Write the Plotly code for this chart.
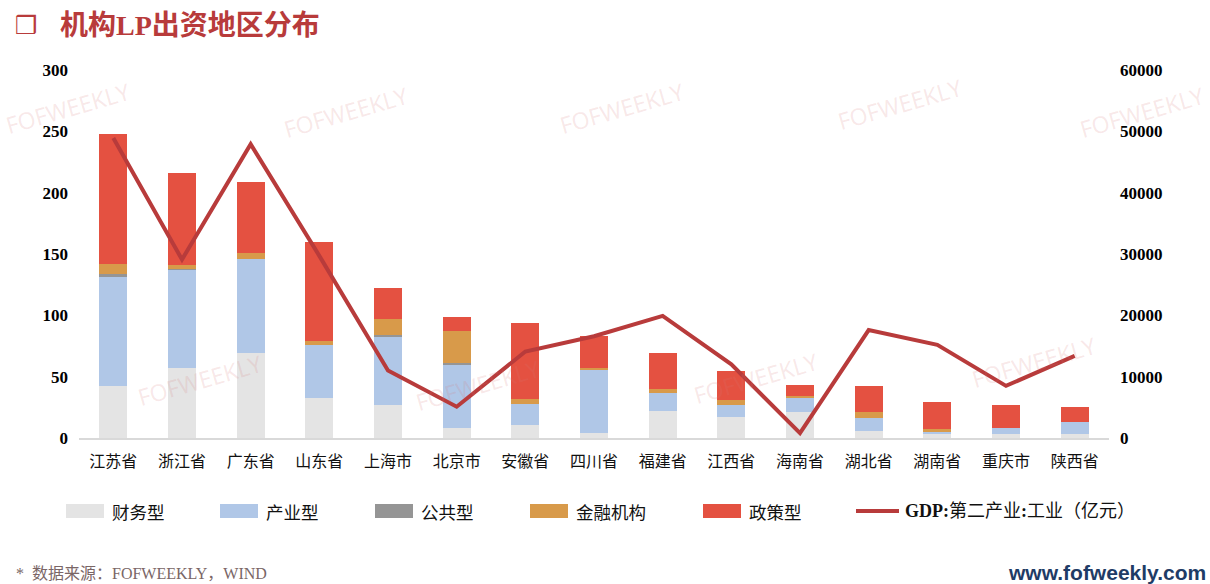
import plotly.graph_objects as go

# Provinces / municipalities
categories = ["江苏省", "浙江省", "广东省", "山东省", "上海市", "北京市", "安徽省", "四川省",
              "福建省", "江西省", "海南省", "湖北省", "湖南省", "重庆市", "陕西省"]

# Number of institutional LPs by type
caiwu = [42, 57, 69, 33, 27, 8, 11, 4, 22, 17, 21, 6, 3, 3, 3]          # 财务型
chanye = [89, 80, 77, 43, 56, 52, 17, 52, 15, 10, 12, 10, 2, 5, 10]     # 产业型
gonggong = [3, 1, 0, 0, 1, 1, 0, 0, 0, 0, 0, 0, 0, 0, 0]                # 公共型
jinrong = [8, 3, 5, 3, 13, 26, 4, 1, 3, 4, 1, 5, 2, 0, 0]               # 金融机构
zhengce = [106, 75, 58, 81, 25, 12, 62, 26, 29, 24, 9, 21, 22, 19, 12]  # 政策型

# GDP: secondary industry: industry (100 million yuan)
gdp = [48900, 29100, 47900, 29700, 11000, 5100, 14100, 16600,
       19900, 12000, 800, 17600, 15200, 8500, 13400]

left_ticks = [0, 50, 100, 150, 200, 250, 300]
right_ticks = [0, 10000, 20000, 30000, 40000, 50000, 60000]

series = [
    ("财务型", caiwu, "#E4E4E4"),
    ("产业型", chanye, "#B0C7E7"),
    ("公共型", gonggong, "#959595"),
    ("金融机构", jinrong, "#D89A4A"),
    ("政策型", zhengce, "#E45141"),
]
line_name = "GDP:第二产业:工业（亿元）"
line_color = "#B83B3B"

W, H = 1210, 584
ML, MR, MT, MB = 79, 101, 70, 146
PW, PH = W - ML - MR, H - MT - MB

serif_cjk = "Liberation Serif, Times New Roman, Noto Sans CJK SC"
cjk = "Noto Sans CJK SC, Liberation Serif"


def px(x):
    """Page x pixel -> paper coordinate."""
    return (x - ML) / PW


def py(y):
    """Page y pixel -> paper coordinate."""
    return (H - MB - y) / PH


fig = go.Figure()
for name, vals, color in series:
    fig.add_trace(go.Bar(
        x=categories, y=vals, name=name, marker=dict(color=color, line=dict(width=0)),
        width=0.41, showlegend=False,
    ))

fig.add_trace(go.Scatter(
    x=categories, y=gdp, name=line_name, yaxis="y2", mode="lines",
    line=dict(color=line_color, width=4), showlegend=False,
))

fig.update_layout(
    width=W, height=H, autosize=False,
    paper_bgcolor="white", plot_bgcolor="white",
    margin=dict(l=ML, r=MR, t=MT, b=MB),
    barmode="stack",
    xaxis=dict(
        type="category", showgrid=False, zeroline=False,
        showline=True, linecolor="#D9D9D9", linewidth=2,
        ticks="", ticklabelstandoff=8,
        tickfont=dict(family=cjk, size=16, color="#111111"),
    ),
    yaxis=dict(
        range=[0, 300], tickvals=left_ticks, showgrid=False, zeroline=False,
        showline=False, ticks="", ticklabelstandoff=10,
        tickfont=dict(family="Liberation Serif", size=17, color="#000000", weight="bold"),
    ),
    yaxis2=dict(
        range=[0, 60000], tickvals=right_ticks, ticktext=[str(v) for v in right_ticks],
        overlaying="y", side="right",
        showgrid=False, zeroline=False, showline=False, ticks="", ticklabelstandoff=10,
        tickfont=dict(family="Liberation Serif", size=17, color="#000000", weight="bold"),
    ),
    font=dict(family=cjk),
)

shapes = []
annotations = []

# Title
annotations.append(dict(
    xref="paper", yref="paper", x=px(13), y=py(25), xanchor="left", yanchor="middle",
    text="❒", showarrow=False, font=dict(family="DejaVu Sans", size=25, color=line_color),
))
annotations.append(dict(
    xref="paper", yref="paper", x=px(58), y=py(25), xanchor="left", yanchor="middle",
    text="<b>机构LP出资地区分布</b>", showarrow=False,
    font=dict(family=serif_cjk, size=28, color=line_color),
))

# Legend drawn below the plot
legend_y = 511
swatch_x = [66, 220, 375, 530, 703]
for (name, _, color), sx in zip(series, swatch_x):
    shapes.append(dict(
        type="rect", xref="paper", yref="paper",
        x0=px(sx), x1=px(sx + 38), y0=py(legend_y + 7), y1=py(legend_y - 7),
        fillcolor=color, line=dict(width=0),
    ))
    annotations.append(dict(
        xref="paper", yref="paper", x=px(sx + 44), y=py(legend_y),
        xanchor="left", yanchor="middle", text=name, showarrow=False,
        font=dict(family=cjk, size=17.5, color="#111111"),
    ))
shapes.append(dict(
    type="line", xref="paper", yref="paper",
    x0=px(856), x1=px(899), y0=py(legend_y), y1=py(legend_y),
    line=dict(color=line_color, width=4),
))
annotations.append(dict(
    xref="paper", yref="paper", x=px(903), y=py(legend_y),
    xanchor="left", yanchor="middle",
    text="<b>GDP:</b>第二产业<b>:</b>工业（亿元）", showarrow=False,
    font=dict(family=serif_cjk, size=18, color="#111111"),
))

# Footer
annotations.append(dict(
    xref="paper", yref="paper", x=px(14), y=py(573), xanchor="left", yanchor="middle",
    text="*  数据来源：FOFWEEKLY，WIND", showarrow=False,
    font=dict(family=serif_cjk, size=16, color="#7A6666"),
))
annotations.append(dict(
    xref="paper", yref="paper", x=px(1208), y=py(572), xanchor="right", yanchor="middle",
    text="<b>www.fofweekly.com</b>", showarrow=False,
    font=dict(family="Liberation Sans, Arial", size=21, color="#1F3C66"),
))

# Watermark grid
marks = [(68, 108), (346, 112), (622, 108), (900, 104), (1142, 112),
         (200, 380), (478, 385), (756, 378), (1034, 362)]
for mx, my in marks:
    annotations.append(dict(
        xref="paper", yref="paper", x=px(mx), y=py(my), xanchor="center", yanchor="middle",
        text="FOFWEEKLY", showarrow=False, textangle=-16,
        font=dict(family="Open Sans, DejaVu Sans", size=23, color="rgba(215,120,120,0.18)"),
    ))

fig.update_layout(shapes=shapes, annotations=annotations)

fig.write_html("out.html")
